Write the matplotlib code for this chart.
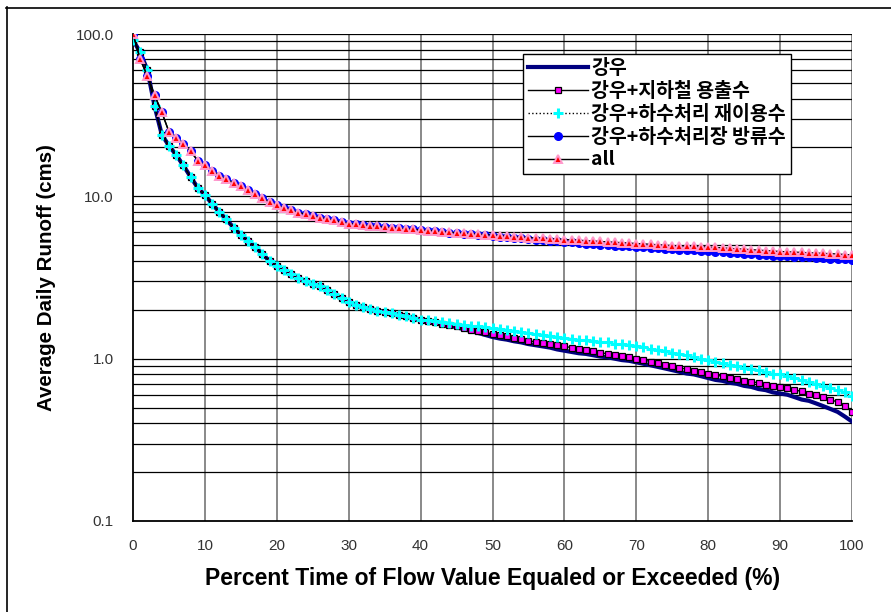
import numpy as np
import matplotlib
matplotlib.use('Agg')
import matplotlib.pyplot as plt
from matplotlib.lines import Line2D
from matplotlib.ticker import FixedLocator, NullFormatter

# x축: 유량 초과 확률 (%)
pct = np.arange(0, 101, 1)

# 강우
rain = [92, 77, 60, 36, 24, 20.5, 18, 15.5, 13.2, 11.3, 10.2,
        9.0, 8.0, 7.2, 6.4, 5.8, 5.3, 4.9, 4.4, 4.0, 3.7,
        3.5, 3.3, 3.15, 3.0, 2.9, 2.8, 2.65, 2.5, 2.35, 2.22,
        2.15, 2.08, 2.02, 1.98, 1.94, 1.9, 1.86, 1.82, 1.78, 1.74,
        1.70, 1.67, 1.63, 1.60, 1.56, 1.52, 1.48, 1.44, 1.40, 1.36,
        1.33, 1.31, 1.28, 1.26, 1.23, 1.21, 1.19, 1.17, 1.14, 1.12,
        1.10, 1.08, 1.07, 1.05, 1.03, 1.02, 1.00, 0.98, 0.97, 0.95,
        0.93, 0.91, 0.89, 0.87, 0.85, 0.83, 0.81, 0.80, 0.78, 0.76,
        0.74, 0.73, 0.71, 0.70, 0.68, 0.67, 0.65, 0.64, 0.62, 0.61,
        0.60, 0.58, 0.56, 0.55, 0.53, 0.51, 0.49, 0.47, 0.44, 0.41]

# 강우+지하철 용출수
subway = [92, 77, 60, 36, 24, 20.5, 18, 15.5, 13.2, 11.3, 10.2,
          9.0, 8.0, 7.2, 6.4, 5.8, 5.3, 4.9, 4.4, 4.0, 3.7,
          3.5, 3.3, 3.15, 3.0, 2.9, 2.8, 2.65, 2.5, 2.35, 2.22,
          2.15, 2.08, 2.02, 1.98, 1.94, 1.9, 1.86, 1.82, 1.78, 1.74,
          1.71, 1.68, 1.64, 1.61, 1.58, 1.55, 1.51, 1.48, 1.45, 1.42,
          1.39, 1.37, 1.34, 1.32, 1.29, 1.27, 1.25, 1.23, 1.21, 1.19,
          1.17, 1.15, 1.13, 1.11, 1.09, 1.07, 1.06, 1.04, 1.02, 1.00,
          0.98, 0.96, 0.94, 0.92, 0.90, 0.88, 0.86, 0.84, 0.83, 0.81,
          0.79, 0.78, 0.76, 0.75, 0.73, 0.72, 0.71, 0.69, 0.68, 0.67,
          0.66, 0.64, 0.63, 0.61, 0.60, 0.58, 0.56, 0.54, 0.51, 0.47]

# 강우+하수처리 재이용수
reuse = [92, 77, 60, 36, 24, 20.5, 18, 15.5, 13.2, 11.3, 10.2,
         9.0, 8.0, 7.2, 6.4, 5.8, 5.3, 4.9, 4.4, 4.0, 3.7,
         3.5, 3.3, 3.15, 3.0, 2.9, 2.8, 2.65, 2.5, 2.35, 2.22,
         2.15, 2.08, 2.02, 1.98, 1.94, 1.9, 1.86, 1.82, 1.78, 1.74,
         1.72, 1.70, 1.68, 1.66, 1.63, 1.61, 1.60, 1.58, 1.56, 1.54,
         1.52, 1.50, 1.48, 1.46, 1.44, 1.42, 1.40, 1.38, 1.36, 1.34,
         1.33, 1.31, 1.30, 1.28, 1.27, 1.26, 1.24, 1.23, 1.21, 1.20,
         1.18, 1.15, 1.13, 1.11, 1.09, 1.07, 1.05, 1.02, 1.00, 0.98,
         0.96, 0.94, 0.92, 0.90, 0.88, 0.86, 0.85, 0.83, 0.81, 0.80,
         0.78, 0.76, 0.74, 0.72, 0.70, 0.68, 0.66, 0.64, 0.62, 0.59]

# 강우+하수처리장 방류수
effluent = [100, 70, 55, 42, 33, 25, 23, 21, 19, 16.6, 15.5,
            14.4, 13.4, 12.7, 12.1, 11.5, 10.9, 10.3, 9.7, 9.2, 8.8,
            8.5, 8.2, 7.95, 7.75, 7.55, 7.4, 7.25, 7.1, 6.95, 6.8,
            6.72, 6.65, 6.58, 6.52, 6.46, 6.4, 6.35, 6.3, 6.25, 6.2,
            6.13, 6.08, 6.03, 5.98, 5.93, 5.88, 5.83, 5.78, 5.74, 5.70,
            5.65, 5.60, 5.55, 5.50, 5.45, 5.40, 5.36, 5.32, 5.28, 5.24,
            5.20, 5.16, 5.12, 5.08, 5.04, 5.00, 4.97, 4.94, 4.91, 4.88,
            4.85, 4.82, 4.79, 4.76, 4.73, 4.70, 4.67, 4.64, 4.61, 4.58,
            4.55, 4.52, 4.49, 4.46, 4.43, 4.40, 4.37, 4.34, 4.31, 4.28,
            4.26, 4.24, 4.22, 4.20, 4.18, 4.16, 4.14, 4.12, 4.10, 4.08]

# all
total = [100, 70, 55, 42, 33, 25, 23, 21, 19, 16.6, 15.5,
         14.4, 13.4, 12.7, 12.1, 11.5, 10.9, 10.3, 9.7, 9.2, 8.8,
         8.5, 8.2, 7.95, 7.75, 7.55, 7.4, 7.25, 7.1, 6.95, 6.8,
         6.72, 6.65, 6.58, 6.52, 6.46, 6.4, 6.35, 6.3, 6.25, 6.2,
         6.15, 6.1, 6.05, 6.0, 5.96, 5.92, 5.88, 5.84, 5.8, 5.76,
         5.72, 5.68, 5.64, 5.6, 5.57, 5.54, 5.51, 5.48, 5.45, 5.42,
         5.39, 5.36, 5.33, 5.30, 5.27, 5.24, 5.21, 5.18, 5.15, 5.12,
         5.09, 5.06, 5.03, 5.00, 4.97, 4.95, 4.93, 4.91, 4.89, 4.87,
         4.84, 4.81, 4.78, 4.75, 4.72, 4.69, 4.66, 4.63, 4.60, 4.57,
         4.55, 4.53, 4.51, 4.49, 4.47, 4.45, 4.43, 4.41, 4.38, 4.35]

labels = ['강우', '강우+지하철 용출수', '강우+하수처리 재이용수', '강우+하수처리장 방류수', 'all']

W, H = 891, 612
fig = plt.figure(figsize=(W / 100, H / 100), dpi=100)
ax = fig.add_axes([133 / W, 1 - 521 / H, (852 - 133) / W, (521 - 34) / H])

ax.plot(pct, rain, color='#000080', lw=3, label=labels[0], zorder=3)
ax.plot(pct, subway, color='black', lw=1, marker='s', ms=5, mfc='#FF00FF', mec='black',
        mew=0.9, label=labels[1], zorder=4)
ax.plot(pct, reuse, color='black', lw=1, ls=':', marker='+', ms=6.5, mec='#00FFFF', mew=2.2,
        label=labels[2], zorder=5)
ax.plot(pct, effluent, color='black', lw=1, marker='o', ms=5.5, mfc='#0000FF', mec='#0000FF',
        label=labels[3], zorder=6)
ax.plot(pct, total, color='black', lw=1, marker='^', ms=5.5, mfc='#FF0000', mec='#FF99CC',
        mew=1.4, label=labels[4], zorder=7)

ax.set_yscale('log')
ax.set_ylim(0.1, 100)
ax.set_xlim(0, 100)
ax.set_xticks(np.arange(0, 101, 10))
ax.set_yticks([0.1, 1, 10, 100])
ax.set_yticklabels(['0.1', '1.0', '10.0', '100.0'])
minor = [m * d for d in [0.1, 1, 10] for m in range(2, 10)]
ax.yaxis.set_minor_locator(FixedLocator(minor))
ax.yaxis.set_minor_formatter(NullFormatter())

# 격자
for x in range(10, 101, 10):
    ax.axvline(x, color='#808080', lw=1.3, zorder=1)
for y in minor + [1, 10, 100]:
    ax.axhline(y, color='black', lw=0.9, zorder=1)

for s in ['top', 'right']:
    ax.spines[s].set_visible(False)
ax.spines['left'].set_linewidth(1.3)
ax.spines['bottom'].set_linewidth(1.3)

ax.tick_params(axis='both', which='both', length=0)
ax.tick_params(axis='x', pad=13)
ax.tick_params(axis='y', pad=14)
for t in ax.get_xticklabels() + ax.get_yticklabels():
    t.set_fontfamily(['Liberation Sans', 'DejaVu Sans'])
    t.set_fontsize(11)
    t.set_color('#333333')

lab_family = ['Liberation Sans', 'DejaVu Sans']
ax.set_xlabel('Percent Time of Flow Value Equaled or Exceeded (%)', labelpad=10,
              family=lab_family, weight='bold', size=16.5)
ax.set_ylabel('Average Daily Runoff (cms)', labelpad=14,
              family=lab_family, weight='bold', size=14.8)

leg = fig.legend(loc='upper left', bbox_to_anchor=(523 / W, 1 - 54 / H), borderaxespad=0,
                 prop={'family': ['Noto Sans CJK KR', 'DejaVu Sans'], 'weight': 'bold', 'size': 14},
                 numpoints=1, handlelength=3.1, handletextpad=0.15, labelspacing=0.2,
                 borderpad=0.25, fancybox=False, framealpha=1, edgecolor='black')
leg.get_frame().set_linewidth(1.0)

# 바깥 테두리
fig.add_artist(Line2D([6.5 / W, 6.5 / W], [0, 1 - 7 / H], color='black', lw=1.2))
fig.add_artist(Line2D([6 / W, 1], [1 - 7.5 / H, 1 - 7.5 / H], color='black', lw=1.2))

fig.savefig('out.png', dpi=100)
